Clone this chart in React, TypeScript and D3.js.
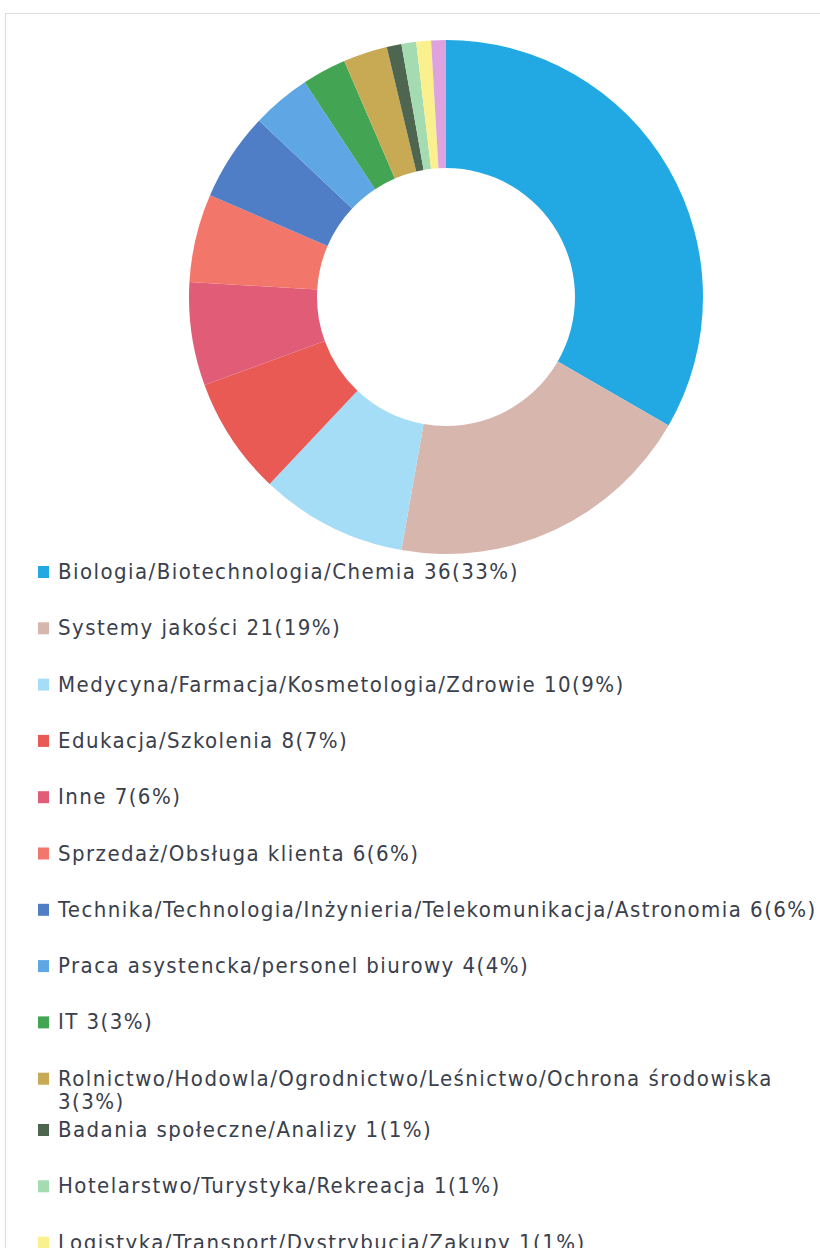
import React, { useEffect, useRef } from "react";
import * as d3 from "d3";

const categories: string[] = [
  "Biologia/Biotechnologia/Chemia",
  "Systemy jakości",
  "Medycyna/Farmacja/Kosmetologia/Zdrowie",
  "Edukacja/Szkolenia",
  "Inne",
  "Sprzedaż/Obsługa klienta",
  "Technika/Technologia/Inżynieria/Telekomunikacja/Astronomia",
  "Praca asystencka/personel biurowy",
  "IT",
  "Rolnictwo/Hodowla/Ogrodnictwo/Leśnictwo/Ochrona środowiska",
  "Badania społeczne/Analizy",
  "Hotelarstwo/Turystyka/Rekreacja",
  "Logistyka/Transport/Dystrybucja/Zakupy",
  "Prawo/Administracja",
];
const counts: number[] = [36, 21, 10, 8, 7, 6, 6, 4, 3, 3, 1, 1, 1, 1];
const percents: number[] = [33, 19, 9, 7, 6, 6, 6, 4, 3, 3, 1, 1, 1, 1];
const colors: string[] = [
  "#22a9e4",
  "#d7b6ae",
  "#a5dcf6",
  "#e95a55",
  "#e15d77",
  "#f2766a",
  "#4f7ec6",
  "#5ea6e4",
  "#43a453",
  "#c8aa55",
  "#4e6550",
  "#a5dbb1",
  "#fbf08e",
  "#dea2df",
];

const W = 820;
const H = 1248;
const FONT = "'DejaVu Sans Condensed', 'Open Sans', sans-serif";

export default function App() {
  const ref = useRef<SVGSVGElement | null>(null);

  useEffect(() => {
    const svg = d3.select(ref.current);
    svg.selectAll("*").remove();

    // faint frame (scan border)
    svg
      .append("path")
      .attr("d", `M5.5,${H} L5.5,13.5 L${W},13.5`)
      .attr("fill", "none")
      .attr("stroke", "#dcdcdc")
      .attr("stroke-width", 1.2);

    const cx = 446;
    const cy = 297;
    const outerR = 257;
    const innerR = 129;

    const pie = d3
      .pie<number>()
      .sort(null)
      .value((d) => d)
      .startAngle(0)
      .endAngle(2 * Math.PI);
    const arc = d3.arc<d3.PieArcDatum<number>>().innerRadius(innerR).outerRadius(outerR);

    const g = svg.append("g").attr("transform", `translate(${cx},${cy})`);
    g.selectAll("path.slice")
      .data(pie(counts))
      .join("path")
      .attr("class", "slice")
      .attr("d", arc)
      .attr("fill", (_, i) => colors[i]);

    // legend
    const lx = 58;
    const y0 = 579; // baseline of first item
    const step = 56.3;
    const fontSize = 22;
    const ls = 1.45;
    const maxW = 772;
    const leg = svg.append("g");
    let shift = 0;

    categories.forEach((name, i) => {
      const y = y0 + step * i + shift;
      const full = `${name} ${counts[i]}(${percents[i]}%)`;
      const t = leg
        .append("text")
        .attr("x", lx)
        .attr("y", y)
        .attr("font-family", FONT)
        .attr("font-size", fontSize)
        .attr("letter-spacing", ls)
        .attr("fill", "#3a404c")
        .text(full);
      const node = t.node() as SVGTextElement;
      if (node.getComputedTextLength() > maxW) {
        t.text(name);
        leg
          .append("text")
          .attr("x", lx)
          .attr("y", y + 23)
          .attr("font-family", FONT)
          .attr("font-size", fontSize)
          .attr("letter-spacing", ls)
          .attr("fill", "#3a404c")
          .text(`${counts[i]}(${percents[i]}%)`);
        shift -= 5;
      }
      leg
        .append("rect")
        .attr("x", 38)
        .attr("y", y - 13)
        .attr("width", 11)
        .attr("height", 12)
        .attr("fill", colors[i]);
    });
  }, []);

  return (
    <svg
      ref={ref}
      width={W}
      height={H}
      style={{ position: "absolute", left: 0, top: 0, background: "#fff" }}
    />
  );
}
